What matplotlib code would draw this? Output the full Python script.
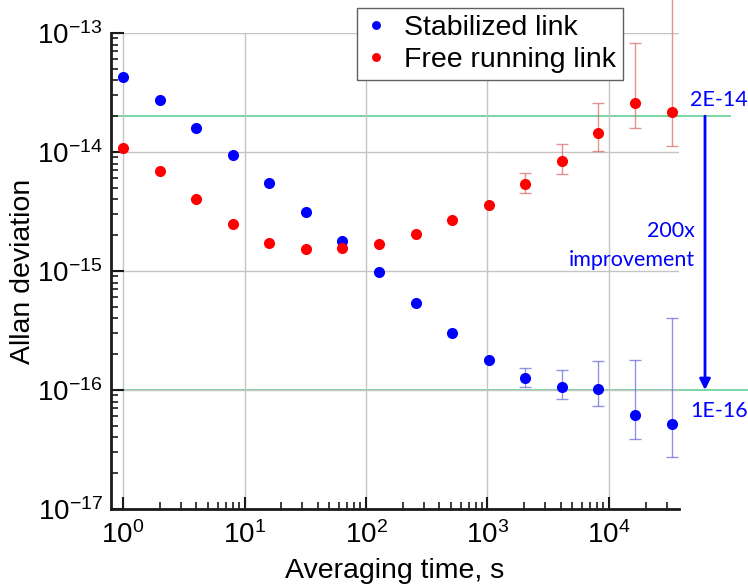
import matplotlib
matplotlib.use('Agg')
import matplotlib.pyplot as plt
import matplotlib.ticker as mticker
import numpy as np

plt.rcParams['font.family'] = ['Liberation Sans', 'DejaVu Sans']
plt.rcParams['mathtext.default'] = 'regular'

# ---- data ----
tau = [1, 2, 4, 8, 16, 32, 64, 128, 256, 512, 1024, 2048, 4096, 8192, 16384, 32768]
stabilized = [4.25e-14, 2.72e-14, 1.60e-14, 9.4e-15, 5.45e-15, 3.15e-15, 1.80e-15, 9.8e-16,
              5.35e-16, 3.03e-16, 1.80e-16, 1.25e-16, 1.06e-16, 1.02e-16, 6.2e-17, 5.2e-17]
free_running = [1.09e-14, 6.9e-15, 4.03e-15, 2.48e-15, 1.73e-15, 1.54e-15, 1.57e-15, 1.70e-15,
                2.03e-15, 2.67e-15, 3.6e-15, 5.38e-15, 8.36e-15, 1.44e-14, 2.60e-14, 2.17e-14]
err_tau = [2048, 4096, 8192, 16384, 32768]
stab_center = [1.25e-16, 1.06e-16, 1.02e-16, 6.2e-17, 5.2e-17]
stab_lower = [1.07e-16, 8.35e-17, 7.3e-17, 3.85e-17, 2.75e-17]
stab_upper = [1.54e-16, 1.46e-16, 1.75e-16, 1.78e-16, 4.03e-16]
free_center = [5.38e-15, 8.36e-15, 1.44e-14, 2.60e-14, 2.17e-14]
free_lower = [4.5e-15, 6.58e-15, 1.01e-14, 1.59e-14, 1.12e-14]
free_upper = [6.67e-15, 1.17e-14, 2.58e-14, 8.24e-14, 2.5e-13]
x_major = [1, 10, 100, 1000, 10000]
y_major = [1e-17, 1e-16, 1e-15, 1e-14, 1e-13]
level_high = 2e-14
level_low = 1e-16
arrow_x = 61700

fig = plt.figure(figsize=(7.48, 5.85), dpi=100)
ax = fig.add_axes([111/748, 1-509/585, (679-111)/748, (509-33)/585])
ax.set_xscale('log')
ax.set_yscale('log')
xmin, xmax = 0.796, 37700
ymin, ymax = 1e-17, 1e-13

ax.grid(True, which='major', color='#c4c4c4', lw=1.0, zorder=0)

# reference levels
ax.plot([xmin, 1e5], [level_high, level_high], color='#6fd29a', lw=1.3, clip_on=False, zorder=1)
ax.plot([xmin, 3e5], [level_low, level_low], color='#6fd29a', lw=1.3, clip_on=False, zorder=1)

# error bars
s_c = np.array(stab_center)
ax.errorbar(err_tau, s_c, yerr=[s_c - np.array(stab_lower), np.array(stab_upper) - s_c],
            fmt='none', ecolor=(0.4, 0.4, 0.85, 0.7), elinewidth=1.0, capsize=4, capthick=1.0,
            zorder=2)
f_c = np.array(free_center)
eb = ax.errorbar(err_tau, f_c, yerr=[f_c - np.array(free_lower), np.array(free_upper) - f_c],
                 fmt='none', ecolor=(0.85, 0.4, 0.4, 0.7), elinewidth=1.0, capsize=4, capthick=1.0,
                 zorder=2)
for coll in eb[2]:
    coll.set_clip_on(False)

ax.plot(tau, stabilized, 'o', color='#0000ff', ms=8, mec='none', label='Stabilized link', zorder=3)
ax.plot(tau, free_running, 'o', color='#ff0000', ms=8, mec='none', label='Free running link', zorder=3)

ax.set_xlim(xmin, xmax)
ax.set_ylim(ymin, ymax)
ax.xaxis.set_major_locator(mticker.FixedLocator(x_major))
ax.yaxis.set_major_locator(mticker.FixedLocator(y_major))
ax.xaxis.set_major_formatter(mticker.LogFormatterSciNotation())
ax.yaxis.set_major_formatter(mticker.LogFormatterSciNotation())
x_minor = [m * d for d in [1, 10, 100, 1000, 10000] for m in range(2, 10) if m * d < xmax]
y_minor = [m * d for d in [1e-17, 1e-16, 1e-15, 1e-14] for m in range(2, 10)]
ax.xaxis.set_minor_locator(mticker.FixedLocator(x_minor))
ax.yaxis.set_minor_locator(mticker.FixedLocator(y_minor))
ax.xaxis.set_minor_formatter(mticker.NullFormatter())
ax.yaxis.set_minor_formatter(mticker.NullFormatter())

# arrow and annotations
ax.annotate('', xy=(arrow_x, level_low), xytext=(arrow_x, level_high),
            arrowprops=dict(arrowstyle='-|>', color='#0000ff', lw=2, mutation_scale=16,
                            shrinkA=0, shrinkB=0),
            annotation_clip=False)
ann_font = dict(family=['Lato', 'DejaVu Sans'], color='#0000ff', fontsize=15.5)
ax.text(46400, 2.74e-14, '2E-14', ha='left', va='center', clip_on=False, **ann_font)
ax.text(5.1e4, 2.17e-15, '200x', ha='right', va='center', clip_on=False, **ann_font)
ax.text(5.1e4, 1.24e-15, 'improvement', ha='right', va='center', clip_on=False, **ann_font)
ax.text(46400, 6.6e-17, '1E-16', ha='left', va='center', clip_on=False, **ann_font)

# axes styling
for s in ['top', 'right']:
    ax.spines[s].set_visible(False)
for s in ['left', 'bottom']:
    ax.spines[s].set_linewidth(2)
    ax.spines[s].set_color('#1a1a1a')
ax.tick_params(which='major', direction='in', length=9, width=1.5, labelsize=20,
               color='#1a1a1a', top=False, right=False)
ax.tick_params(which='minor', direction='in', length=5, width=1.2, color='#1a1a1a',
               top=False, right=False)
ax.tick_params(axis='x', which='major', pad=9)
ax.tick_params(axis='y', which='major', pad=6)

ax.set_xlabel('Averaging time, s', fontsize=20.5, labelpad=6)
ax.set_ylabel('Allan deviation', fontsize=20.5, labelpad=1)

leg = ax.legend(loc='upper left', bbox_to_anchor=(357/748, 1-8/585), bbox_transform=fig.transFigure,
                fontsize=20.5, frameon=True, fancybox=False, framealpha=1, edgecolor='#606060',
                borderpad=0.25, labelspacing=0.2, handlelength=0.8, handletextpad=0.6,
                markerscale=0.8, borderaxespad=0)
leg.get_frame().set_linewidth(1.0)

fig.savefig('out.png', dpi=100)
